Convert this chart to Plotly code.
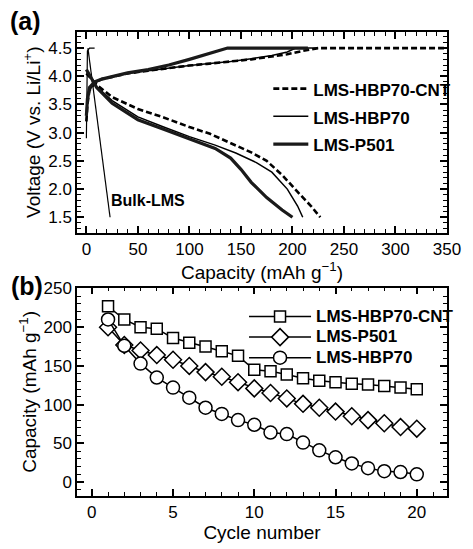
import plotly.graph_objects as go

# ---------------- Panel (a): voltage profiles ----------------
cnt_charge_cap = [0, 1, 3, 8, 15, 25, 40, 60, 80, 100, 117, 140, 160, 180, 195, 210, 225, 260, 300, 350]
cnt_charge_v = [3.2, 3.5, 3.75, 3.88, 3.95, 3.99, 4.05, 4.1, 4.15, 4.19, 4.22, 4.26, 4.3, 4.35, 4.39, 4.45, 4.5, 4.5, 4.5, 4.5]
cnt_dis_cap = [0, 10, 25, 50, 75, 100, 120, 140, 160, 175, 190, 205, 218, 227]
cnt_dis_v = [4.05, 3.85, 3.63, 3.42, 3.27, 3.1, 2.98, 2.82, 2.65, 2.5, 2.25, 1.95, 1.7, 1.5]

hbp_charge_cap = [0, 1, 3, 8, 15, 25, 40, 60, 80, 100, 117, 140, 160, 180, 195, 203, 225]
hbp_charge_v = [3.2, 3.5, 3.75, 3.88, 3.95, 3.99, 4.05, 4.1, 4.15, 4.19, 4.22, 4.26, 4.31, 4.37, 4.43, 4.5, 4.5]
hbp_dis_cap = [0, 5, 10, 25, 50, 75, 100, 125, 145, 165, 180, 195, 205, 210]
hbp_dis_v = [4.1, 3.95, 3.82, 3.57, 3.28, 3.1, 2.93, 2.78, 2.64, 2.47, 2.3, 2.0, 1.7, 1.5]

p501_charge_cap = [0, 1, 3, 8, 15, 25, 40, 60, 80, 100, 117, 137, 170, 215]
p501_charge_v = [3.3, 3.6, 3.8, 3.9, 3.95, 3.99, 4.06, 4.12, 4.2, 4.3, 4.39, 4.5, 4.5, 4.5]
p501_dis_cap = [0, 5, 10, 25, 50, 75, 100, 125, 140, 150, 160, 175, 190, 200]
p501_dis_v = [4.12, 3.95, 3.8, 3.52, 3.23, 3.06, 2.89, 2.72, 2.55, 2.35, 2.12, 1.85, 1.63, 1.5]

bulk_charge_cap = [0, 0.3, 1, 3, 8]
bulk_charge_v = [2.9, 3.8, 4.45, 4.5, 4.5]
bulk_dis_cap = [1.5, 6, 11, 16, 20, 23]
bulk_dis_v = [4.5, 3.85, 3.15, 2.45, 1.9, 1.5]

# ---------------- Panel (b): cycling ----------------
cycles = list(range(1, 21))
cap_cnt = [227, 210, 200, 198, 186, 180, 175, 169, 163, 145, 143, 139, 134, 131, 129, 127, 126, 124, 122, 120]
cap_p501 = [200, 177, 170, 164, 158, 150, 142, 136, 129, 121, 115, 108, 101, 96, 91, 85, 80, 76, 71, 69]
cap_hbp = [210, 176, 153, 135, 122, 109, 96, 88, 80, 74, 64, 62, 51, 41, 32, 24, 18, 14, 13, 10]

# tick values
xa_major = [0, 50, 100, 150, 200, 250, 300, 350]
ya_major = [1.5, 2.0, 2.5, 3.0, 3.5, 4.0, 4.5]
xb_major = [0, 5, 10, 15, 20]
yb_major = [0, 50, 100, 150, 200, 250]

FONT = "Liberation Sans, Arial, sans-serif"


def join(a, b):
    return a + [None] + b


def lg(t):
    return "<span style='font-size:17px'>" + t + "</span>"


fig = go.Figure()

fig.add_trace(go.Scatter(x=join(bulk_charge_cap, bulk_dis_cap), y=join(bulk_charge_v, bulk_dis_v),
                         mode="lines", line=dict(color="black", width=1.2), showlegend=False,
                         xaxis="x", yaxis="y"))
fig.add_trace(go.Scatter(x=join(cnt_charge_cap, cnt_dis_cap), y=join(cnt_charge_v, cnt_dis_v),
                         mode="lines", name=lg("LMS-HBP70-CNT"),
                         line=dict(color="black", width=2.6, dash="6px,3px"),
                         xaxis="x", yaxis="y", legend="legend"))
fig.add_trace(go.Scatter(x=join(hbp_charge_cap, hbp_dis_cap), y=join(hbp_charge_v, hbp_dis_v),
                         mode="lines", name=lg("LMS-HBP70"),
                         line=dict(color="black", width=1.5),
                         xaxis="x", yaxis="y", legend="legend"))
fig.add_trace(go.Scatter(x=join(p501_charge_cap, p501_dis_cap), y=join(p501_charge_v, p501_dis_v),
                         mode="lines", name=lg("LMS-P501"),
                         line=dict(color="#1a1a1a", width=3.2),
                         xaxis="x", yaxis="y", legend="legend"))

mk_line = dict(color="black", width=1.5)
fig.add_trace(go.Scatter(x=cycles, y=cap_cnt, mode="lines+markers", name=lg("LMS-HBP70-CNT"),
                         line=dict(color="black", width=1.5),
                         marker=dict(symbol="square", size=11, color="white", line=mk_line),
                         xaxis="x2", yaxis="y2", legend="legend2"))
fig.add_trace(go.Scatter(x=cycles, y=cap_p501, mode="lines+markers", name=lg("LMS-P501"),
                         line=dict(color="black", width=1.5),
                         marker=dict(symbol="diamond", size=13, color="white", line=mk_line),
                         xaxis="x2", yaxis="y2", legend="legend2"))
fig.add_trace(go.Scatter(x=cycles, y=cap_hbp, mode="lines+markers", name=lg("LMS-HBP70"),
                         line=dict(color="black", width=1.5),
                         marker=dict(symbol="circle", size=13, color="white", line=mk_line),
                         xaxis="x2", yaxis="y2", legend="legend2"))

L, R, T, B = 77, 15, 32, 38
W, H = 473, 549
pw = W - L - R
ph = H - T - B


def py(px):  # pixel y -> paper fraction
    return (H - B - px) / ph


def pxf(px):
    return (px - L) / pw


xa_range = [-9.1, 350]
ya_range = [1.23, 4.785]
xb_range = [-0.91, 21.86]
yb_range = [-18, 251]
A_BOT = 239
B_TOP = 296

tf = dict(family=FONT, size=17, color="black")
ttf = dict(family=FONT, size=19, color="black")
axc = dict(showline=True, linecolor="black", linewidth=1.5, mirror="ticks",
           ticks="inside", ticklen=7, tickwidth=1.5, tickcolor="black",
           showgrid=False, zeroline=False, tickfont=tf, title_font=ttf)


def minor(dt, t0):
    return dict(dtick=dt, tick0=t0, ticks="inside", ticklen=4, tickwidth=1.2, tickcolor="black")


fig.update_layout(
    width=W, height=H, margin=dict(l=L, r=R, t=T, b=B),
    paper_bgcolor="white", plot_bgcolor="white",
    font=dict(family=FONT, color="black"),
    xaxis=dict(domain=[0, 1], anchor="y", range=xa_range, tickvals=xa_major, minor=minor(10, 0),
               title=dict(text="Capacity (mAh g<sup>\u22121</sup>)", standoff=4), **axc),
    yaxis=dict(domain=[py(A_BOT), 1], anchor="x", range=ya_range, tickvals=ya_major, tickformat=".1f",
               minor=minor(0.1, 1.5),
               title=dict(text="Voltage (V vs. Li/Li<sup>+</sup>)", standoff=3), **axc),
    xaxis2=dict(domain=[0, 1], anchor="y2", range=xb_range, tickvals=xb_major, minor=minor(1, 0),
                title=dict(text="Cycle number", standoff=2), **axc),
    yaxis2=dict(domain=[0, py(B_TOP)], anchor="x2", range=yb_range, tickvals=yb_major, minor=minor(10, 0),
                title=dict(text="Capacity (mAh g<sup>\u22121</sup>)", standoff=2), **axc),
    legend=dict(x=pxf(274), y=py(71), xanchor="left", yanchor="top", bgcolor="rgba(0,0,0,0)",
                font=dict(family=FONT, size=19, color="black", weight="bold"), itemwidth=35,
                borderwidth=0, tracegroupgap=0),
    legend2=dict(x=pxf(249), y=py(310), xanchor="left", yanchor="top", bgcolor="rgba(0,0,0,0)",
                 font=dict(family=FONT, size=13.5, color="black", weight="bold"), itemwidth=62,
                 borderwidth=0),
    annotations=[
        dict(text="<b>(a)</b>", xref="paper", yref="paper", x=pxf(24), y=py(21), showarrow=False,
             xanchor="center", yanchor="middle", font=dict(family=FONT, size=25, color="black")),
        dict(text="<b>(b)</b>", xref="paper", yref="paper", x=pxf(25), y=py(294), showarrow=False,
             xanchor="center", yanchor="middle", font=dict(family=FONT, size=25, color="black")),
        dict(text="<b>Bulk-LMS</b>", xref="x", yref="y", x=22, y=1.8, xanchor="left", showarrow=False,
             font=dict(family=FONT, size=16, color="black")),
    ],
)

fig.write_html("out.html")
